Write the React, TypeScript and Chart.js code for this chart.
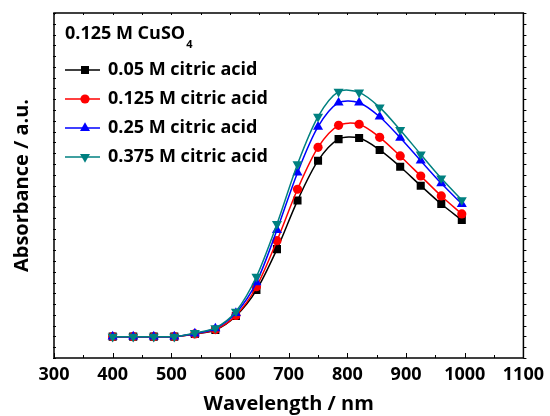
import React, { useEffect, useRef } from "react";
import { Chart, registerables } from "chart.js";

Chart.register(...registerables);

const wavelengths = [400, 435, 470, 505, 540, 575, 610, 645, 680, 715, 750, 785, 820, 855, 890, 925, 960, 995];

const acid005 = [0.198, 0.198, 0.198, 0.198, 0.223, 0.26, 0.39, 0.63, 1.01, 1.46, 1.83, 2.03, 2.04, 1.93, 1.774, 1.598, 1.428, 1.28];
const acid0125 = [0.198, 0.198, 0.198, 0.198, 0.223, 0.264, 0.394, 0.661, 1.088, 1.565, 1.954, 2.158, 2.168, 2.047, 1.874, 1.688, 1.503, 1.336];
const acid025 = [0.198, 0.198, 0.198, 0.198, 0.227, 0.274, 0.417, 0.702, 1.187, 1.719, 2.145, 2.368, 2.368, 2.238, 2.043, 1.83, 1.62, 1.428];
const acid0375 = [0.198, 0.198, 0.198, 0.198, 0.232, 0.278, 0.431, 0.754, 1.243, 1.797, 2.238, 2.47, 2.464, 2.325, 2.115, 1.889, 1.667, 1.465];

const seriesLabels = ["0.05 M citric acid", "0.125 M citric acid", "0.25 M citric acid", "0.375 M citric acid"];
const seriesColors = ["#000000", "#ff0000", "#0000ff", "#008080"];
const seriesMarkers = ["rect", "circle", "triangle", "triangleDown"];
const legendTitle = "0.125 M CuSO";
const legendSub = "4";

const xMin = 300;
const xMax = 1100;
const yMin = 0;
const yMax = 3.2;

const FONT = "'Open Sans', 'DejaVu Sans', sans-serif";

function drawMarker(ctx: CanvasRenderingContext2D, kind: string, x: number, y: number, color: string) {
  ctx.save();
  ctx.fillStyle = color;
  ctx.beginPath();
  if (kind === "rect") {
    ctx.rect(x - 4, y - 4, 8, 8);
  } else if (kind === "circle") {
    ctx.arc(x, y, 4.6, 0, Math.PI * 2);
  } else if (kind === "triangle") {
    const r = 5.8;
    ctx.moveTo(x, y - r);
    ctx.lineTo(x + r * 0.866, y + r * 0.5);
    ctx.lineTo(x - r * 0.866, y + r * 0.5);
    ctx.closePath();
  } else {
    const r = 5.8;
    ctx.moveTo(x, y + r);
    ctx.lineTo(x + r * 0.866, y - r * 0.5);
    ctx.lineTo(x - r * 0.866, y - r * 0.5);
    ctx.closePath();
  }
  ctx.fill();
  ctx.restore();
}

const framePlugin = {
  id: "frameAndLegend",
  afterDraw(chart: any) {
    const ctx: CanvasRenderingContext2D = chart.ctx;
    const { left, right, top, bottom } = chart.chartArea;
    const xs = chart.scales.x;
    const ys = chart.scales.y;
    ctx.save();
    ctx.strokeStyle = "#000";
    ctx.lineWidth = 1;
    for (let v = xMin; v <= xMax; v += 50) {
      const px = Math.round(xs.getPixelForValue(v)) + 0.5;
      const major = v % 100 === 0;
      ctx.beginPath();
      ctx.moveTo(px, bottom);
      ctx.lineTo(px, bottom - (major ? 5 : 3));
      ctx.stroke();
      ctx.beginPath();
      ctx.moveTo(px, top);
      ctx.lineTo(px, top + 2);
      ctx.stroke();
    }
    for (let i = 0; i <= 32; i++) {
      const v = yMin + i * 0.1;
      const py = Math.round(ys.getPixelForValue(v)) + 0.5;
      ctx.beginPath();
      ctx.moveTo(left - 1, py);
      ctx.lineTo(left + 2, py);
      ctx.stroke();
      ctx.beginPath();
      ctx.moveTo(right, py);
      ctx.lineTo(right + 3, py);
      ctx.stroke();
    }
    ctx.lineWidth = 1.5;
    ctx.strokeRect(left, top, right - left, bottom - top);

    const lx = left + 11;
    ctx.fillStyle = "#000";
    ctx.font = "bold 18px " + FONT;
    ctx.textBaseline = "middle";
    ctx.textAlign = "left";
    ctx.fillText(legendTitle, lx, top + 21);
    const tw = ctx.measureText(legendTitle).width;
    ctx.font = "bold 11px " + FONT;
    ctx.fillText(legendSub, lx + tw + 1, top + 32);
    ctx.font = "bold 18px " + FONT;
    for (let i = 0; i < seriesLabels.length; i++) {
      const cy = top + 57 + i * 29;
      ctx.strokeStyle = seriesColors[i];
      ctx.lineWidth = 1.5;
      ctx.beginPath();
      ctx.moveTo(lx, cy);
      ctx.lineTo(lx + 35, cy);
      ctx.stroke();
      drawMarker(ctx, seriesMarkers[i], lx + 20, cy, seriesColors[i]);
      ctx.fillStyle = "#000";
      ctx.fillText(seriesLabels[i], lx + 43, cy);
    }
    ctx.restore();
  },
};

export default function App() {
  const ref = useRef<HTMLCanvasElement | null>(null);
  useEffect(() => {
    if (!ref.current) return;
    const seriesData = [acid005, acid0125, acid025, acid0375];
    const pointStyles: any[] = ["rect", "circle", "triangle", "triangle"];
    const radii = [5.7, 4.6, 5.8, 5.8];
    const chart = new Chart(ref.current, {
      type: "line",
      data: {
        datasets: seriesData.map((vals, i) => ({
          label: seriesLabels[i],
          data: wavelengths.map((w, j) => ({ x: w, y: vals[j] })),
          borderColor: seriesColors[i],
          backgroundColor: seriesColors[i],
          borderWidth: 1.5,
          pointStyle: pointStyles[i],
          pointRotation: i === 3 ? 180 : 0,
          pointRadius: radii[i],
          pointBorderWidth: 0,
          tension: 0.3,
          order: 4 - i,
        })),
      },
      options: {
        animation: false,
        responsive: false,
        devicePixelRatio: 1,
        layout: { padding: { top: 13, right: 23, left: 0, bottom: 0 } },
        plugins: { legend: { display: false }, tooltip: { enabled: false }, title: { display: false } },
        scales: {
          x: {
            type: "linear",
            min: xMin,
            max: xMax,
            grid: { display: false, drawTicks: false },
            border: { display: false },
            ticks: {
              stepSize: 100,
              color: "#000",
              padding: 6,
              font: { family: FONT, size: 18, weight: "bold" },
              callback: (v: any) => String(v),
            },
            title: {
              display: true,
              text: "Wavelength / nm",
              color: "#000",
              font: { family: FONT, size: 20, weight: "bold" },
              padding: { top: 0, bottom: 0 },
            },
            afterFit(scale: any) {
              scale.height = 58;
            },
          },
          y: {
            type: "linear",
            min: yMin,
            max: yMax,
            grid: { display: false, drawTicks: false },
            border: { display: false },
            ticks: { display: false },
            title: {
              display: true,
              text: "Absorbance / a.u.",
              color: "#000",
              font: { family: FONT, size: 20, weight: "bold" },
              padding: { top: 10, bottom: 0 },
            },
            afterFit(scale: any) {
              scale.width = 54;
            },
          },
        },
      },
      plugins: [framePlugin],
    });
    return () => chart.destroy();
  }, []);
  return (
    <div style={{ position: "fixed", left: 0, top: 0, width: 550, height: 416, background: "#fff" }}>
      <canvas ref={ref} width={550} height={416} style={{ width: 550, height: 416 }} />
    </div>
  );
}
